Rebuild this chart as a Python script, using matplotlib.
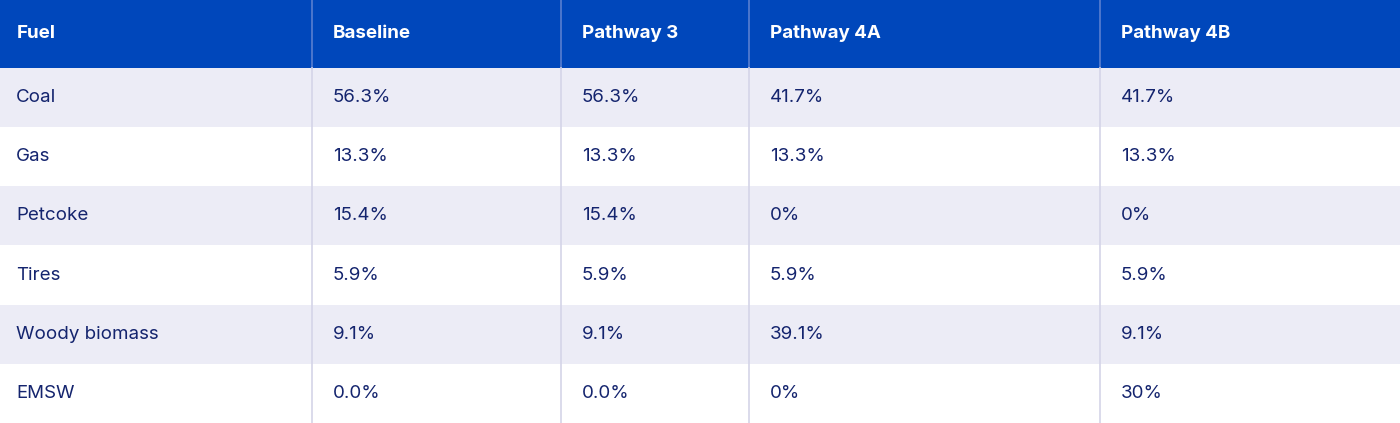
import matplotlib
matplotlib.use("Agg")
import matplotlib.pyplot as plt
from matplotlib.patches import Rectangle

columns = ["Fuel", "Baseline", "Pathway 3", "Pathway 4A", "Pathway 4B"]
fuels = ["Coal", "Gas", "Petcoke", "Tires", "Woody biomass", "EMSW"]
baseline = ["56.3%", "13.3%", "15.4%", "5.9%", "9.1%", "0.0%"]
pathway3 = ["56.3%", "13.3%", "15.4%", "5.9%", "9.1%", "0.0%"]
pathway4a = ["41.7%", "13.3%", "0%", "5.9%", "39.1%", "0%"]
pathway4b = ["41.7%", "13.3%", "0%", "5.9%", "9.1%", "30%"]

W, H = 1400, 423
col_edges = [0, 312, 561, 749, 1100, 1400]
header_h = 68
row_h = (H - header_h) / len(fuels)

fig = plt.figure(figsize=(14, 4.23), dpi=100)
ax = fig.add_axes([0, 0, 1, 1])
ax.set_xlim(0, W)
ax.set_ylim(H, 0)
ax.axis("off")

font = "Inter"
header_col = "#0047BB"
stripe = "#ECECF6"
text_col = "#14246E"
line_col = "#D4D4E8"

ax.add_patch(Rectangle((0, 0), W, header_h, color=header_col, lw=0))
for i in range(len(fuels)):
    y0 = header_h + i * row_h
    if i % 2 == 0:
        ax.add_patch(Rectangle((0, y0), W, row_h, color=stripe, lw=0))

for x in col_edges[1:-1]:
    ax.plot([x, x], [0, header_h], color="#5A7FD0", lw=1.2)
    ax.plot([x, x], [header_h, H], color=line_col, lw=1.2)

for j, name in enumerate(columns):
    ax.text(col_edges[j] + 17 if j == 0 else col_edges[j] + 21, header_h / 2, name,
            color="white", fontsize=13.5, fontweight="bold", family=font, va="center")

data = [fuels, baseline, pathway3, pathway4a, pathway4b]
for j, col in enumerate(data):
    for i, v in enumerate(col):
        y = header_h + (i + 0.5) * row_h
        x = col_edges[j] + (16 if j == 0 else 21)
        ax.text(x, y, v, color=text_col, fontsize=13.5, family=font, va="center")

fig.savefig("out.png", dpi=100)
